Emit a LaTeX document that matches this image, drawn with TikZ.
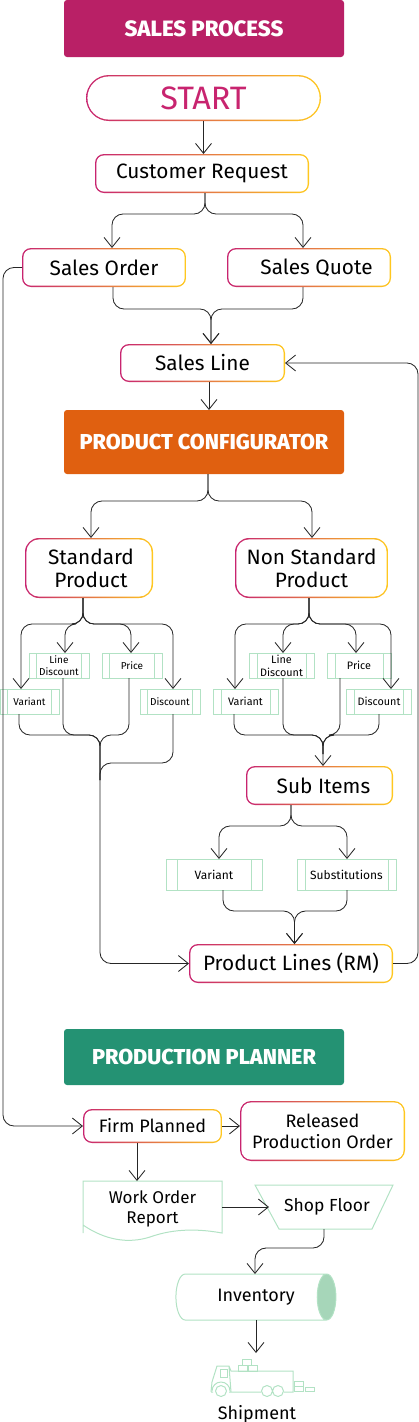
\documentclass[tikz,border=0pt]{standalone}
\usepackage{fontspec}
\setmainfont{Fira Sans}
\newfontfamily\headfont{Fira Sans ExtraBold}
\usetikzlibrary{shapes.geometric, arrows.meta, positioning}
\definecolor{saleshead}{HTML}{B92066}
\definecolor{confhead}{HTML}{E06010}
\definecolor{planhead}{HTML}{249273}
\definecolor{edgepink}{HTML}{C8246F}
\definecolor{edgeorange}{HTML}{F07F2A}
\definecolor{edgeyellow}{HTML}{FFC81E}
\definecolor{softgreen}{HTML}{B2E2C4}
\definecolor{endgreen}{HTML}{A6D6B9}

\begin{document}
\begin{tikzpicture}[x=1pt, y=1pt,
    every node/.style={outer sep=0pt},
    banner/.style={rectangle, rounded corners=3pt, fill=#1, text=white,
      minimum width=280pt, font=\fontsize{21.6}{24}\headfont},
    flow/.style={rectangle, rounded corners=#1, align=center, fill=white,
      font=\fontsize{20.8}{23}\selectfont,
      path picture={
        \shade[sharp corners, left color=edgepink, middle color=edgeorange, right color=edgeyellow]
          (path picture bounding box.south west) rectangle (path picture bounding box.north east);
        \fill[white, rounded corners=#1-1.4pt]
          ([shift={(1.4pt,1.4pt)}]path picture bounding box.south west) rectangle
          ([shift={(-1.4pt,-1.4pt)}]path picture bounding box.north east);
      }},
    flow/.default=9pt,
    item/.style={rectangle, draw=softgreen, line width=1pt, align=center,
      minimum height=25pt, inner sep=0pt, font=\fontsize{10}{12}\selectfont,
      path picture={
        \draw[softgreen, line width=1pt]
          ([xshift=#1]path picture bounding box.north west) -- ([xshift=#1]path picture bounding box.south west)
          ([xshift=-#1]path picture bounding box.north east) -- ([xshift=-#1]path picture bounding box.south east);
      }},
    item/.default=7.5pt,
    link/.style={draw=black!85, line width=.85pt, rounded corners=11pt,
      -{Straight Barb[length=10pt,width=16pt]}},
    mergeline/.style={draw=black!85, line width=.85pt, rounded corners=11pt},
    soft/.style={draw=softgreen, line width=1pt}
  ]
  \useasboundingbox (0,0) rectangle (419,-1422);

  \node[banner=saleshead, minimum height=57pt, font=\fontsize{22.2}{24}\headfont] (salesproc) at (204,-28.5) {SALES PROCESS};
  \node[flow=23pt, minimum width=235pt, minimum height=46pt, below=18pt of salesproc, xshift=-.5pt,
    font=\fontsize{32.4}{36}\selectfont, text=edgepink] (start) {START};
  \node[flow, minimum width=214pt, minimum height=39pt, below=33pt of start, xshift=-1.5pt] (cust) {Customer Request};
  \node[flow, minimum width=164pt, minimum height=39pt, below=55pt of cust, xshift=-98pt] (sorder) {Sales Order};
  \node[flow, minimum width=164pt, minimum height=39pt, right=41pt of sorder] (squote) {\hspace*{15pt}Sales Quote};
  \node[flow, minimum width=165pt, minimum height=38pt, below=57pt of sorder, xshift=98.5pt] (sline) {Sales Line};

  \node[banner=confhead, minimum height=64pt, below=28pt of sline, xshift=1.5pt] (prodconf) {PRODUCT CONFIGURATOR};
  \node[flow=14pt, minimum width=128pt, minimum height=60pt, below=64pt of prodconf, xshift=-115pt] (std) {\hspace*{4pt}Standard\\\hspace*{4pt}Product};
  \node[flow=14pt, minimum width=153pt, minimum height=60pt, right=82pt of std] (nstd) {Non Standard\\Product};

  \node[item, minimum width=60pt, below=55pt of std, xshift=-30pt] (ld) {Line\\Discount};
  \node[item, minimum width=60pt, right=13pt of ld] (pr) {Price};
  \node[item, minimum width=59pt, below=11pt of ld, xshift=-29.5pt] (vr) {Variant};
  \node[item, minimum width=60pt, below=11pt of pr, xshift=38pt] (dc) {Discount};

  \node[item=8pt, minimum width=65pt, below=55pt of nstd, xshift=-30pt, font=\fontsize{10.8}{13}\selectfont] (nld) {Line\\Discount};
  \node[item=8pt, minimum width=64pt, right=13pt of nld, font=\fontsize{10.8}{13}\selectfont] (npr) {Price};
  \node[item=8pt, minimum width=65pt, below=11pt of nld, xshift=-36pt, font=\fontsize{10.8}{13}\selectfont] (nvr) {Variant};
  \node[item=8pt, minimum width=65pt, below=11pt of npr, xshift=20pt, font=\fontsize{10.8}{13}\selectfont] (ndc) {Discount};

  \node[flow, minimum width=147pt, minimum height=39pt, below=52pt of nvr, xshift=74pt] (subitems) {\hspace*{8pt}Sub Items};
  \node[item=11pt, minimum width=96pt, minimum height=31pt, below=54pt of subitems, xshift=-105.5pt,
    font=\fontsize{12}{14}\selectfont] (sv) {Variant};
  \node[item=8pt, minimum width=99pt, minimum height=31pt, right=35pt of sv,
    font=\fontsize{12}{14}\selectfont] (ss) {Substitutions};
  \node[flow, minimum width=204pt, minimum height=39pt, below=54pt of sv, xshift=77pt] (plines) {Product Lines (RM)};

  \node[banner=planhead, minimum height=56pt, below=46pt of plines, xshift=-87pt] (planner) {PRODUCTION PLANNER};
  \node[flow, minimum width=139pt, minimum height=34pt, below=24pt of planner, xshift=-51.5pt,
    font=\fontsize{18}{21}\selectfont] (firm) {Firm Planned};
  \node[flow=11pt, minimum width=165pt, minimum height=60pt, right=18pt of firm, yshift=-5pt,
    font=\fontsize{18}{21}\selectfont] (released) {Released\\Production Order};
  \node[rectangle, minimum width=139pt, minimum height=52pt, align=center, below=38pt of firm,
    font=\fontsize{17}{20}\selectfont] (report) {\rule{0pt}{16pt}Work Order\\Report};
  \node[rectangle, minimum width=138pt, minimum height=44pt, inner sep=0pt, right=33pt of report,
    font=\fontsize{17.5}{21}\selectfont] (floor) {\hspace*{6pt}Shop Floor};
  \node[cylinder, soft, shape aspect=1.15, cylinder uses custom fill, cylinder body fill=white,
    cylinder end fill=endgreen, minimum width=46pt, minimum height=160pt, inner sep=0pt,
    below=45pt of floor, xshift=-73pt, font=\fontsize{18}{21}\selectfont] (inventory) {\hspace*{10pt}Inventory};
  \node[rectangle, minimum width=104pt, minimum height=38pt, below=38pt of inventory, xshift=11pt] (truck) {};
  \node[below=6pt of truck, xshift=-5pt, font=\fontsize{18}{21}\selectfont] (shipment) {Shipment};

  \draw[soft] (report.south west) -- (report.north west) -- (report.north east) -- (report.south east)
    .. controls (200,-1229) and (175,-1228) .. (150,-1237)
    .. controls (128,-1244) and (105,-1240) .. ([yshift=8pt]report.south west) -- (report.south west);
  \draw[soft] (floor.north west) -- (floor.north east) -- ([xshift=-21pt]floor.south east)
    -- ([xshift=24pt]floor.south west) -- cycle;

  \draw[soft] (211,-1392) -- (212,-1382) -- (217,-1366) -- (229,-1366) -- (231,-1371) -- (293,-1371) -- (293,-1392) -- (284,-1392)
    (273,-1392) -- (272,-1392) (261,-1392) -- (231,-1392) -- (229,-1366)
    (211,-1392) -- (213,-1392) (229,-1392) -- (231,-1392);
  \draw[soft] (220,-1369) rectangle (227,-1377);
  \draw[soft] (212,-1391) arc[start angle=180, end angle=0, radius=9];
  \draw[soft] (221,-1391) circle[radius=5.5] (267,-1391) circle[radius=5.5] (278,-1391) circle[radius=5.5];
  \draw[soft] (238,-1365) rectangle (247,-1371) (248,-1365) rectangle (257,-1371) (242,-1359) rectangle (251,-1365);
  \draw[soft] (294,-1381) rectangle (303,-1386) (294,-1386) rectangle (303,-1391) (305,-1387) rectangle (314,-1391);

  \draw[link] (start) -- (start |- cust.north);
  \foreach \target/\dx in {sorder/8, squote/-6}
    \draw[link] ([xshift=3pt]cust.south) -- ++(0,-21) -| ([xshift=\dx pt]\target.north);
  \foreach \source/\dx in {sorder/9, squote/-6}
    \draw[link] ([xshift=\dx pt]\source.south) -- ++(0,-22) -| ([xshift=8.5pt]sline.north);
  \draw[link] ([xshift=6.5pt]sline.south) -- ([xshift=6.5pt]sline.south |- prodconf.north);
  \foreach \target/\dx in {std/2, nstd/.5}
    \draw[link] ([xshift=4pt]prodconf.south) -- ++(0,-27) -| ([xshift=\dx pt]\target.north);

  \foreach \target/\dx in {vr/-8.5, ld/6, pr/-1, dc/3}
    \draw[link] ([xshift=-6pt]std.south) -- ++(0,-26) -| ([xshift=\dx pt]\target.north);
  \foreach \target/\dx in {nvr/-10.5, nld/1.5, npr/-3, ndc/12}
    \draw[link] ([xshift=-2.5pt]nstd.south) -- ++(0,-26) -| ([xshift=\dx pt]\target.north);

  \coordinate (stdjoin) at (100,-780);
  \foreach \source/\dx/\dy in {vr/-10.5/21, ld/4/57, pr/-3/57, dc/3/49}
    \draw[mergeline] ([xshift=\dx pt]\source.south) -- ++(0,-\dy) -| (stdjoin);
  \draw[link] (stdjoin) |- (plines.west);

  \foreach \source/\dx/\dy in {nvr/-11.5/21, nld/1.5/57, npr/-19/57}
    \draw[mergeline] ([xshift=\dx pt]\source.south) -- ++(0,-\dy) -| ([xshift=3.5pt,yshift=12pt]subitems.north);
  \draw[link] ([xshift=0pt]ndc.south) -- ++(0,-21) -| ([xshift=3.5pt]subitems.north);

  \foreach \target/\dx in {sv/5, ss/.5}
    \draw[link] ([xshift=-28.5pt]subitems.south) -- ++(0,-21) -| ([xshift=\dx pt]\target.north);
  \foreach \source/\dx in {sv/9, ss/.5}
    \draw[link] ([xshift=\dx pt]\source.south) -- ++(0,-21) -| ([xshift=3.5pt]plines.north);

  \draw[link] (plines.east) -- ++(25,0) |- (sline.east);
  \draw[link] (sorder.west) -- ++(-19,0) |- (firm.west);
  \draw[link] (firm.east) -- (firm.east -| released.west);
  \draw[link] ([xshift=-15.5pt]firm.south) -- ([xshift=-15.5pt]firm.south |- report.north);
  \draw[link] (report.east) -- ([xshift=14pt]report.east -| floor.west);
  \draw[link] (floor.south) -- ++(0,-19) -| ([xshift=4pt]inventory.north);
  \draw[link] ([xshift=5pt]inventory.south) -- ([yshift=5pt,xshift=5pt]inventory.south |- truck.north);
\end{tikzpicture}
\end{document}
